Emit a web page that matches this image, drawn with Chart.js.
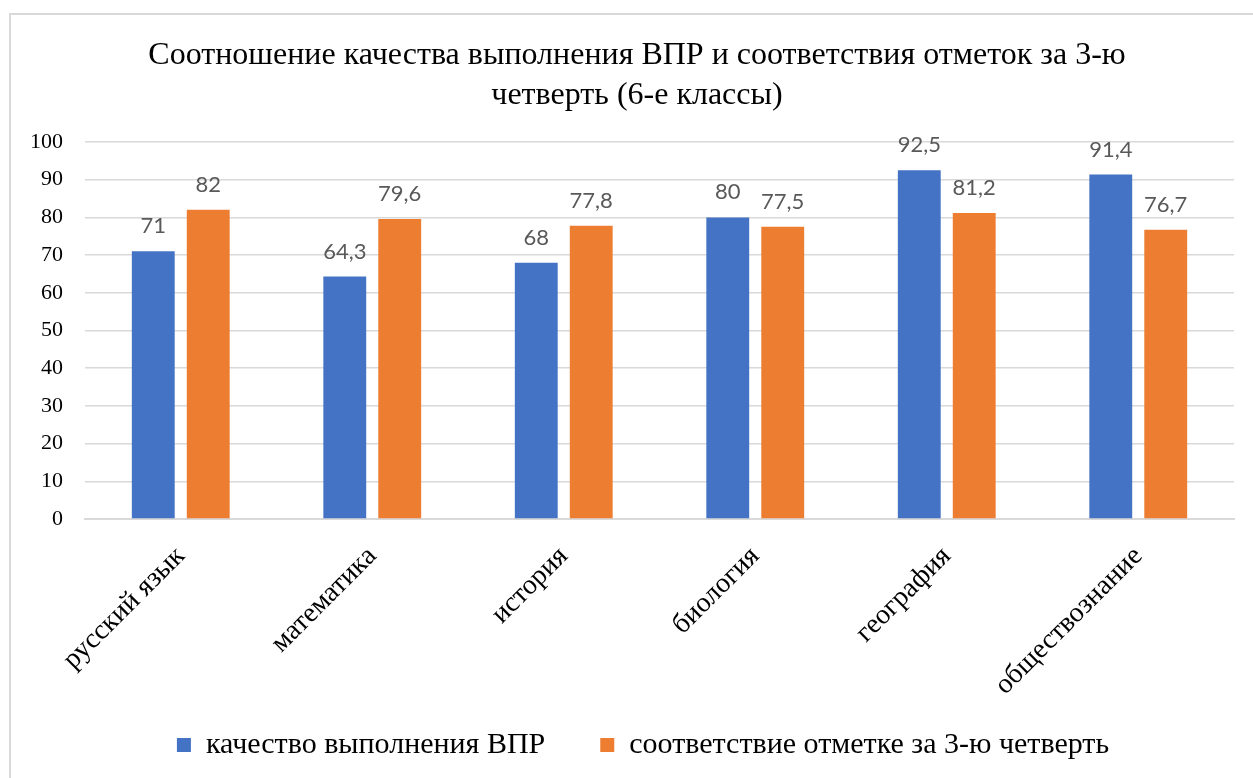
<!DOCTYPE html>
<html>
<head>
<meta charset="utf-8">
<script src="https://cdn.jsdelivr.net/npm/chart.js@4"></script>
<style>
  html, body { margin: 0; padding: 0; background: #fff; overflow: hidden; }
  #frame {
    position: absolute; left: 9px; top: 13px;
    width: 1250px; height: 770px;
    border: 2px solid #d9d9d9; box-sizing: border-box;
  }
  #wrap { position: absolute; left: 0; top: 0; width: 1246px; height: 779px; }
</style>
</head>
<body>
<div id="frame"><div id="wrap"><canvas id="myChart"></canvas></div></div>
<script>
// data
const subjects = ["русский язык", "математика", "история", "биология", "география", "обществознание"];
const vprQuality = [71, 64.3, 68, 80, 92.5, 91.4];
const quarterMatch = [82, 79.6, 77.8, 77.5, 81.2, 76.7];
const seriesNames = ["качество выполнения ВПР", "соответствие отметке за 3-ю четверть"];
const titleLines = ["Соотношение качества выполнения ВПР и соответствия отметок за 3-ю", "четверть (6-е классы)"];

const serif = "'Liberation Serif', 'Times New Roman', serif";

// simple value labels above the bars (no datalabels plugin offline)
const valueLabels = {
  id: "valueLabels",
  afterDatasetsDraw(chart) {
    const ctx = chart.ctx;
    ctx.save();
    ctx.font = "22px Lato, 'Open Sans', sans-serif";
    ctx.fillStyle = "#595959";
    ctx.textAlign = "center";
    ctx.textBaseline = "bottom";
    chart.data.datasets.forEach((ds, i) => {
      chart.getDatasetMeta(i).data.forEach((bar, j) => {
        const txt = String(ds.data[j]).replace(".", ",");
        ctx.fillText(txt, bar.x, bar.y - 14);
      });
    });
    ctx.restore();
  },
};

// nudge title and legend a bit (Excel centres them a little differently)
const nudgeBoxes = {
  id: "nudgeBoxes",
  afterLayout(chart) {
    const t = chart.titleBlock;
    if (t) { t.left += 16; t.right += 16; }
    const l = chart.legend;
    if (l) { l.left += 22; l.right += 22; l.top -= 24; l.bottom -= 24; }
  },
};

const ctx = document.getElementById("myChart");

new Chart(ctx, {
  type: "bar",
  data: {
    labels: subjects,
    datasets: [
      {
        label: seriesNames[0],
        data: vprQuality,
        backgroundColor: "#4472c4",
        barPercentage: 0.78,
        categoryPercentage: 0.574,
      },
      {
        label: seriesNames[1],
        data: quarterMatch,
        backgroundColor: "#ed7d31",
        barPercentage: 0.78,
        categoryPercentage: 0.574,
      },
    ],
  },
  options: {
    responsive: true,
    maintainAspectRatio: false,
    animation: false,
    layout: { padding: { left: -3, right: 23, top: 21, bottom: 0 } },
    plugins: {
      title: {
        display: true,
        text: titleLines,
        color: "#000",
        font: { family: serif, size: 32, weight: "normal", lineHeight: 1.25 },
        padding: { top: 0, bottom: 26 },
      },
      legend: {
        position: "bottom",
        labels: {
          color: "#000",
          font: { family: serif, size: 30 },
          boxWidth: 14,
          boxHeight: 14,
          padding: 55,
        },
      },
      tooltip: { enabled: false },
    },
    scales: {
      x: {
        grid: { display: false },
        border: { color: "#d9d9d9", width: 2 },
        ticks: {
          color: "#000",
          font: { family: serif, size: 28 },
          minRotation: 45,
          maxRotation: 45,
          padding: 13,
        },
        afterFit(scale) {
          scale.height = 180;
        },
      },
      y: {
        min: 0,
        max: 100,
        ticks: {
          stepSize: 10,
          color: "#000",
          font: { family: serif, size: 22 },
          padding: 22,
        },
        grid: { color: "#d9d9d9", lineWidth: 1.5, drawTicks: false },
        border: { display: false },
      },
    },
  },
  plugins: [valueLabels, nudgeBoxes],
});
</script>
</body>
</html>
